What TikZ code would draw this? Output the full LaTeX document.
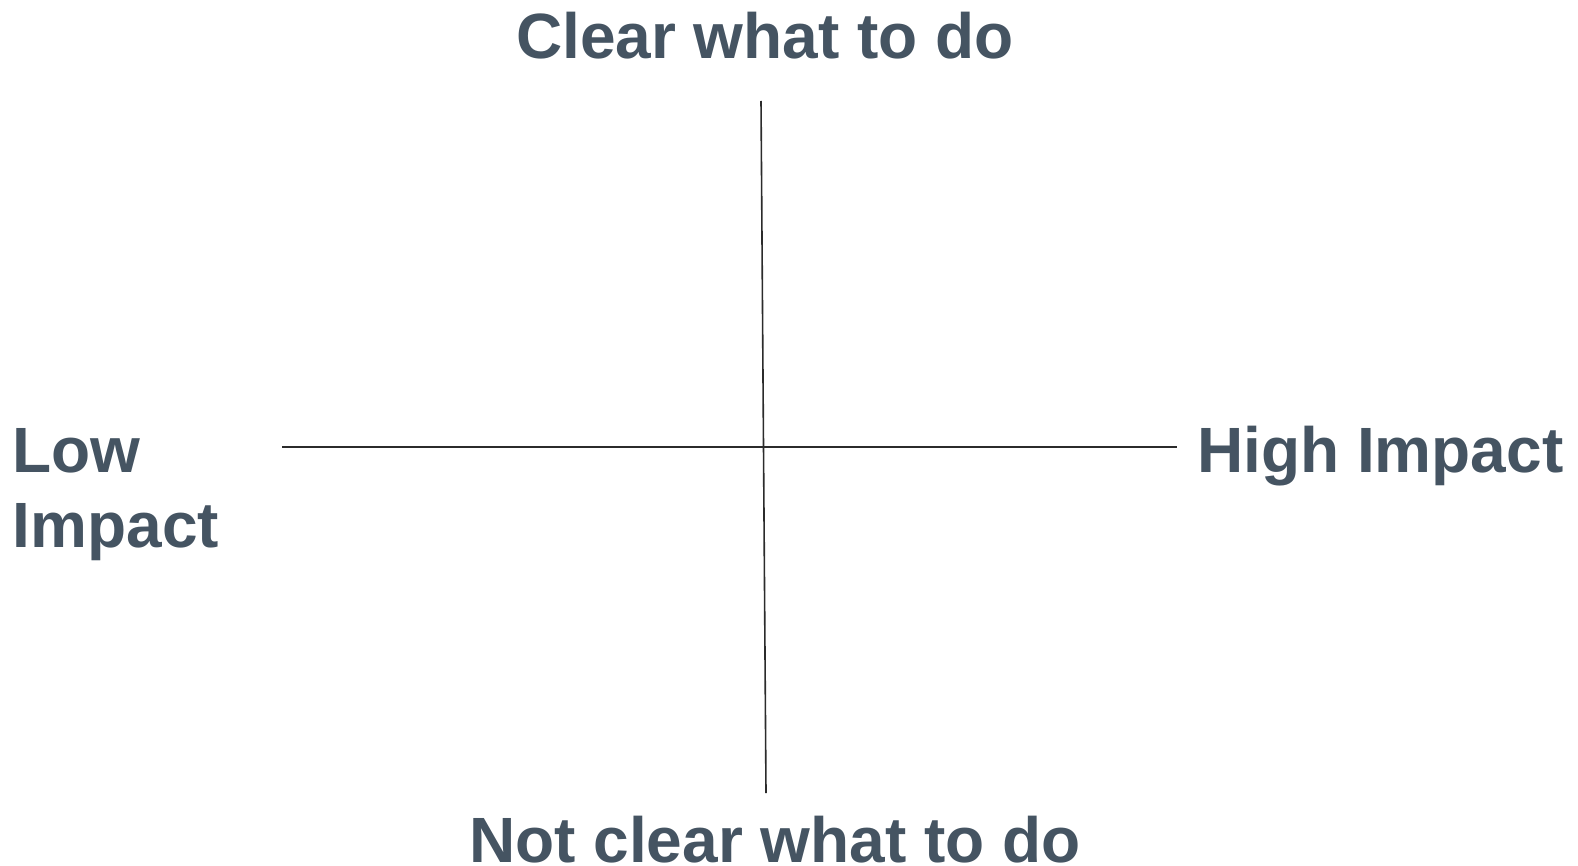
\documentclass[tikz,border=0pt]{standalone}
\usepackage{fontspec}
\setmainfont{Liberation Sans}
\definecolor{labelcol}{HTML}{455462}
\definecolor{axiscol}{HTML}{2B2B2B}
\tikzset{
  lbl/.style={inner sep=0pt, text=labelcol, font=\bfseries\fontsize{64}{75}\selectfont},
  axis/.style={draw=axiscol, line width=1.6pt}
}
\begin{document}
\begin{tikzpicture}[x=1pt,y=-1pt]
\useasboundingbox (0,0) rectangle (1578,866);
\coordinate (vt) at (761,101);
\coordinate (vb) at (766,793);
\coordinate (hl) at (282,447);
\coordinate (hr) at (1177,447);
\draw[axis] (vt) -- (vb);
\draw[axis] (hl) -- (hr);
\node[lbl, anchor=base] (top) at (765,59) {Clear what to do};
\node[lbl, anchor=base] (bottom) at (775,862) {Not clear what to do};
\node[lbl, anchor=base west] (low1) at (12.5,472) {Low};
\node[lbl, anchor=base west] (low2) at (12.5,547) {Impact};
\node[lbl, anchor=base west] (high) at (1197,472) {High Impact};
\end{tikzpicture}
\end{document}
